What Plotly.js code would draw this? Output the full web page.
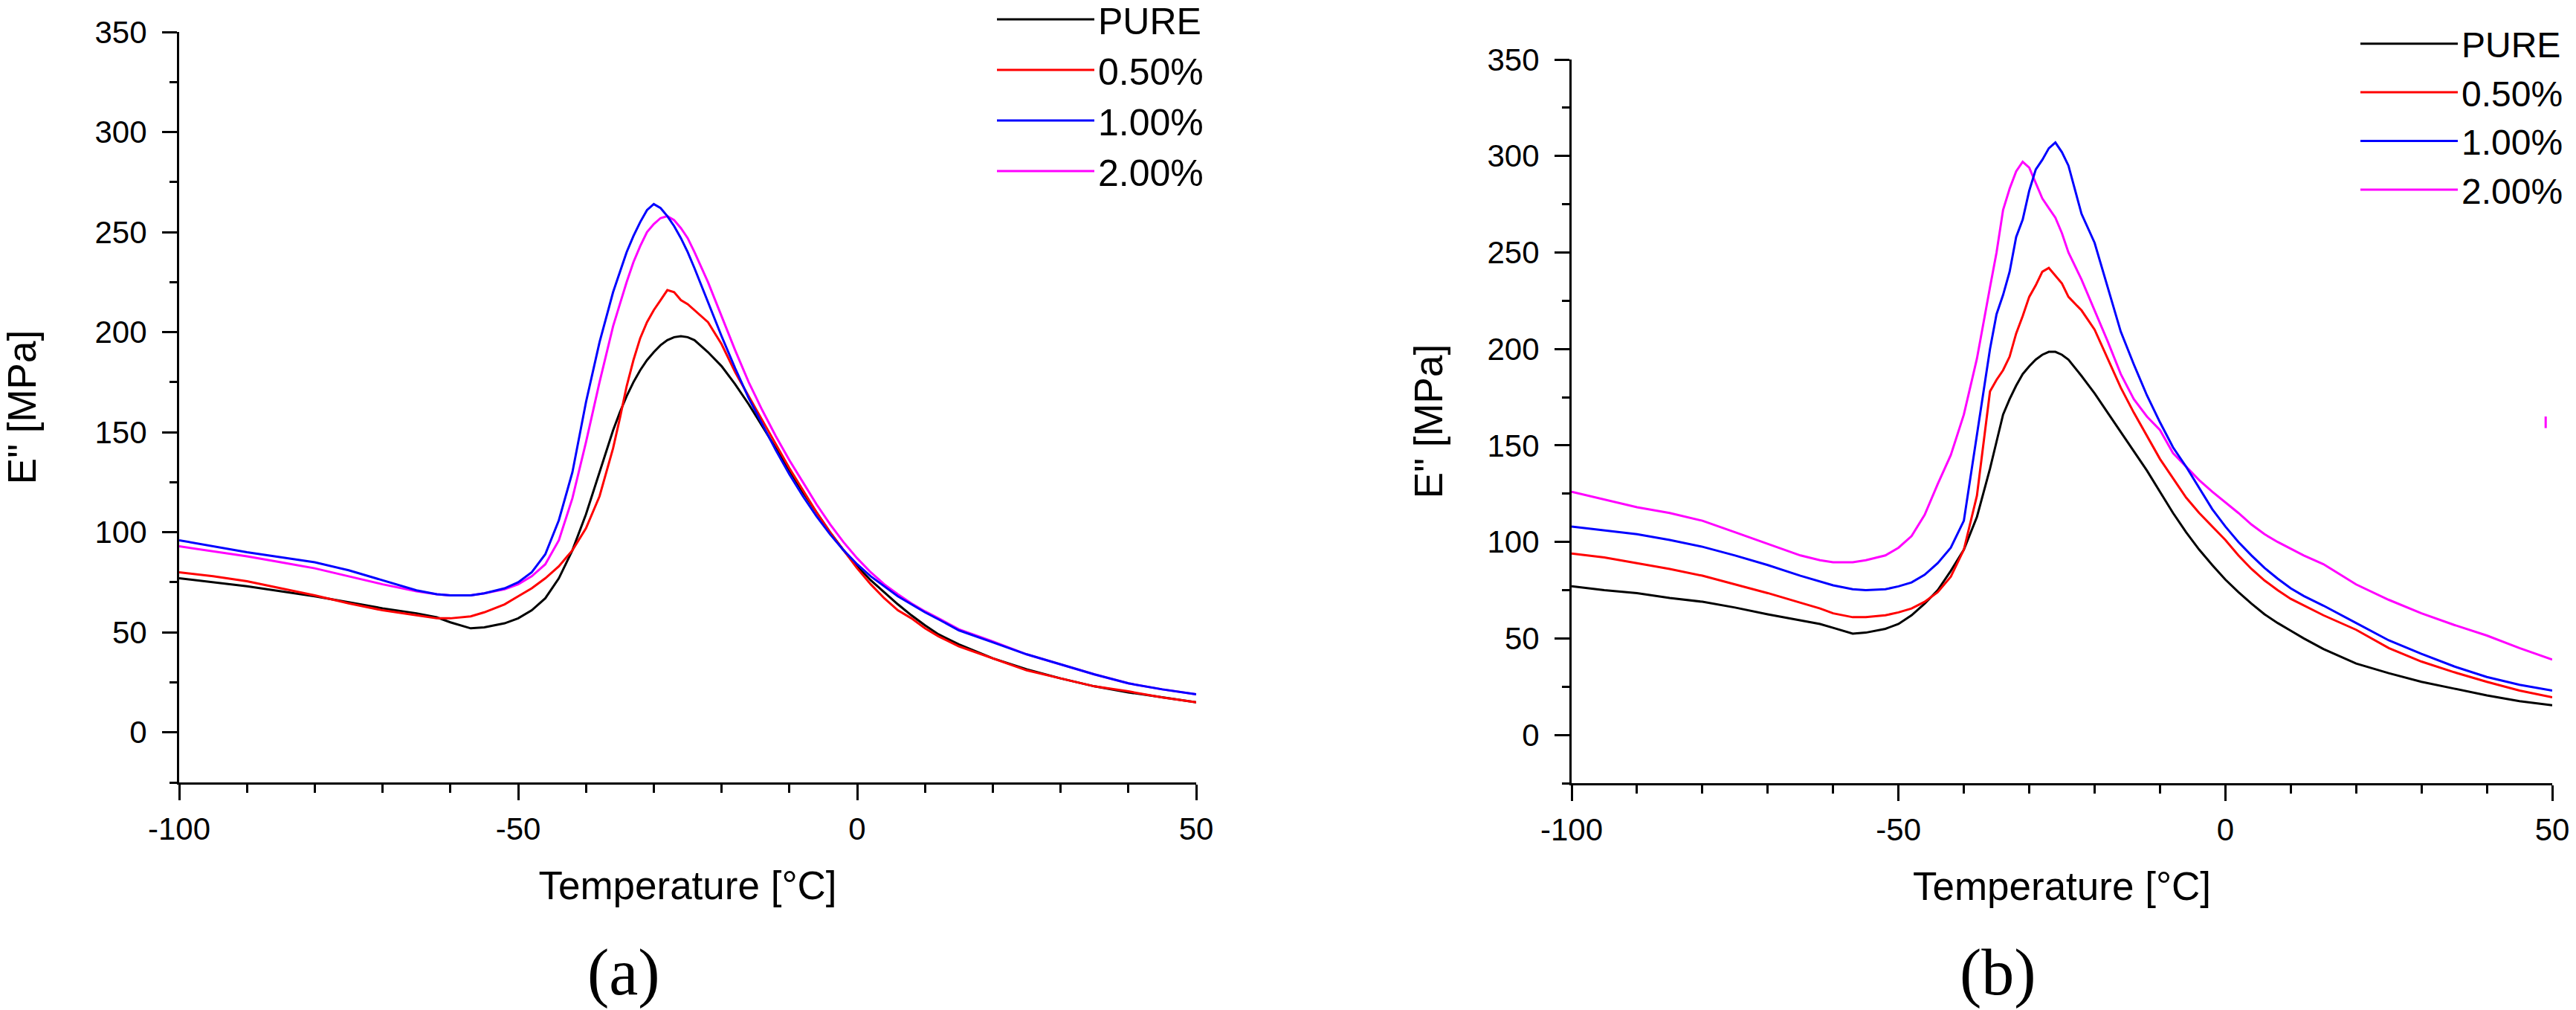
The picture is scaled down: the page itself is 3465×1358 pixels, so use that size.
<!DOCTYPE html>
<html>
<head>
<meta charset="utf-8">
<script src="https://cdn.plot.ly/plotly-3.0.1.min.js"></script>
<style>
  html, body { margin: 0; padding: 0; background: #fff; }
  #chart { width: 3465px; height: 1358px; }
</style>
</head>
<body>
<div id="chart"></div>
<script>
// Temperature grid [°C] shared by every series
const temps = [-100, -95, -90, -85, -80, -75, -70, -65, -62, -60, -57, -55, -52, -50,
  -48, -46, -44, -42, -40, -38, -36, -35, -34, -33, -32, -31, -30, -29, -28, -27,
  -26, -25, -24, -22, -20, -18, -16, -14, -12, -10, -8, -6, -4, -2, 0,
  2, 4, 6, 8, 10, 12, 15, 20, 25, 30, 35, 40, 45, 50];

const seriesNames = ['PURE', '0.50%', '1.00%', '2.00%'];

// tick labels (plain hyphen minus, as in the figure)
const xTickVals = [-100, -50, 0, 50];
const xTickText = ['-100', '-50', '0', '50'];
const yTickVals = [0, 50, 100, 150, 200, 250, 300, 350];
const yTickText = ['0', '50', '100', '150', '200', '250', '300', '350'];

// (a) loss modulus E'' [MPa]
const aPure = [77, 75, 73, 70.5, 68, 65, 62, 59.5, 57.5, 55, 52, 52.5, 54.5, 57,
  61, 67, 77, 91, 109, 130, 151, 160, 168, 175, 181, 186, 190, 193.5, 196, 197.5,
  198, 197.5, 196, 190, 183, 174, 164, 153, 142, 131, 120, 110, 100, 91, 83,
  76, 70, 64, 58.5, 53.5, 49, 44, 37, 31.5, 27, 23, 20, 17.5, 15];
const aHalf = [80, 78, 75.5, 72, 68.5, 64.5, 61, 58.5, 57, 57, 58, 60, 64, 68,
  72, 77, 83, 91, 102, 118, 142, 157, 173, 186, 197, 205, 211, 216, 221, 220,
  216, 214, 211, 205, 194, 180, 168, 156, 144, 132, 121, 110, 100, 91, 82,
  74, 67, 61, 57, 52, 48, 43, 37, 31, 27, 23, 20.5, 17.5, 15];
const aOne = [96, 93, 90, 87.5, 85, 81, 76, 71, 69, 68.5, 68.5, 69.5, 72, 75,
  80, 89, 106, 130, 165, 195, 220, 230, 240, 248, 255, 261, 264, 262, 258, 253,
  247, 240, 232, 215, 198, 182, 167, 154, 141, 129, 118, 108, 99, 91, 84,
  78, 73, 68, 64, 60, 56.5, 51, 45, 39, 34, 29, 24.5, 21.5, 19];
const aTwo = [93, 90.5, 88, 85, 82, 78, 74, 70.5, 69, 68.5, 68.5, 69.5, 71.5, 74,
  78, 84, 96, 117, 145, 175, 203, 214, 225, 235, 243, 250, 254, 257, 258, 256,
  252, 247, 240, 225, 208, 191, 175, 161, 148, 136, 125, 114, 104, 95, 87,
  80, 74, 69, 64.5, 60.5, 57, 51.5, 45.5, 39, 34, 29, 24.5, 21.5, 19];

// (b) loss modulus E'' [MPa]
const bPure = [77, 75, 73.5, 71, 69, 66, 62.5, 59.5, 57.5, 55.5, 52.5, 53, 55, 57.5,
  62, 68, 75, 85, 96, 113, 138, 152, 166, 174, 181, 187, 191, 194.5, 197, 198.5,
  198.5, 197, 194.5, 186, 177, 167, 157, 147, 137, 126, 115, 105, 96, 88, 80.5,
  74, 68, 62.5, 58, 54, 50, 44.5, 37, 32, 27.5, 24, 20.5, 17.5, 15.4];
const bHalf = [94, 92, 89, 86, 82.5, 78, 73.5, 68.5, 65.5, 63, 61, 61, 62, 63.5,
  65.5, 69, 74, 82, 96, 124, 178, 184, 189, 196, 208, 217, 227, 233, 240, 242,
  238, 234, 227, 220, 210, 195, 180, 167, 155, 143, 133, 123, 115, 108, 101,
  93, 86, 80, 75, 70.5, 67, 62, 54.5, 45, 38, 32.5, 27.5, 23, 19.5];
const bOne = [108, 106, 104, 101, 97.5, 93, 88, 82.5, 79.5, 77.5, 75.5, 75, 75.5, 77,
  79, 83, 89, 97, 111, 155, 200, 218, 228, 240, 258, 267, 282, 293, 298, 304,
  307, 302, 295, 270, 255, 232, 209, 192, 176, 162, 149, 139, 128, 117, 108,
  100, 93, 86.5, 81, 76, 72, 67, 58, 49, 42, 35.5, 30, 26, 23];
const bTwo = [126, 122, 118, 115, 111, 105, 99, 93, 90.5, 89.5, 89.5, 90.5, 93, 97,
  103, 114, 130, 145, 166, 195, 232, 250, 272, 283, 292, 297, 294, 286, 278, 273,
  268, 260, 250, 236, 220, 204, 187, 174, 165, 158, 146, 139, 132, 126, 120.5,
  115, 109, 104, 100, 96.5, 93, 88.5, 78, 70, 63, 57, 51.5, 45, 39];

// short stray 2.00% segment near the right edge of (b)
const bStrayT = [49, 49];
const bStrayE = [159, 165];

const colors = ['#000000', '#ff0000', '#0000ff', '#ff00ff'];
const font = 'Liberation Sans, Arial, sans-serif';

function trace(y, i, xa, ya, leg) {
  return {
    x: temps, y: y, name: seriesNames[i],
    type: 'scatter', mode: 'lines',
    line: { color: colors[i], width: 3 },
    xaxis: xa, yaxis: ya, legend: leg, legendrank: i + 1
  };
}

// draw order: black, red, magenta, blue (blue sits on magenta)
const data = [
  trace(aPure, 0, 'x', 'y', 'legend'),
  trace(aHalf, 1, 'x', 'y', 'legend'),
  trace(aTwo, 3, 'x', 'y', 'legend'),
  trace(aOne, 2, 'x', 'y', 'legend'),
  trace(bPure, 0, 'x2', 'y2', 'legend2'),
  trace(bHalf, 1, 'x2', 'y2', 'legend2'),
  trace(bTwo, 3, 'x2', 'y2', 'legend2'),
  trace(bOne, 2, 'x2', 'y2', 'legend2'),
  { x: bStrayT, y: bStrayE, type: 'scatter', mode: 'lines', showlegend: false,
    line: { color: colors[3], width: 3 }, xaxis: 'x2', yaxis: 'y2', hoverinfo: 'skip' }
];

const W = 3465, H = 1358;
const px = (a, b) => [a / W, b / W];
const py = (top, bottom) => [1 - bottom / H, 1 - top / H];

function xAxis(domain, anchor) {
  return {
    domain: domain, anchor: anchor, range: [-100, 50],
    tickmode: 'array', tickvals: xTickVals, ticktext: xTickText,
    showline: true, linecolor: '#000', linewidth: 3, mirror: false,
    showgrid: false, zeroline: false,
    ticks: 'outside', ticklen: 21, tickwidth: 3, tickcolor: '#000',
    minor: { dtick: 10, ticks: 'outside', ticklen: 11, tickwidth: 3, tickcolor: '#000', showgrid: false },
    tickfont: { family: font, size: 42, color: '#000' },
    ticklabelstandoff: 3,
    title: { text: 'Temperature [°C]', font: { family: font, size: 53, color: '#000' }, standoff: 35 }
  };
}
function yAxis(domain, anchor, standoff) {
  return {
    domain: domain, anchor: anchor, range: [-25, 350],
    tickmode: 'array', tickvals: yTickVals, ticktext: yTickText,
    showline: true, linecolor: '#000', linewidth: 3, mirror: false,
    showgrid: false, zeroline: false,
    ticks: 'outside', ticklen: 20, tickwidth: 3, tickcolor: '#000',
    minor: { dtick: 25, ticks: 'outside', ticklen: 10, tickwidth: 3, tickcolor: '#000', showgrid: false },
    tickfont: { family: font, size: 42, color: '#000' },
    ticklabelstandoff: 12,
    title: { text: 'E" [MPa]', font: { family: font, size: 53, color: '#000' }, standoff: standoff }
  };
}

const legendBase = {
  xanchor: 'left', yanchor: 'top', bgcolor: 'rgba(0,0,0,0)', borderwidth: 0,
  itemwidth: 131, traceorder: 'normal'
};

const layout = {
  width: W, height: H,
  paper_bgcolor: '#fff', plot_bgcolor: '#fff',
  margin: { l: 0, r: 0, t: 0, b: 0, autoexpand: false },
  showlegend: true,
  xaxis: xAxis(px(241, 1609), 'y'),
  yaxis: yAxis(py(43, 1052), 'x', 63),
  xaxis2: xAxis(px(2114, 3433), 'y2'),
  yaxis2: yAxis(py(80, 1053), 'x2', 43),
  legend: Object.assign({}, legendBase, { x: 1336 / W, y: 1 + 13 / H,
    font: { family: font, size: 50, color: '#000' } }),
  legend2: Object.assign({}, legendBase, { x: 3170 / W, y: 1 - 21 / H,
    font: { family: font, size: 48, color: '#000' } }),
  annotations: [
    { text: '(a)', xref: 'paper', yref: 'paper', x: 839 / W, y: 0,
      xanchor: 'center', yanchor: 'bottom', showarrow: false,
      font: { family: 'Liberation Serif, Times New Roman, serif', size: 88, color: '#000' } },
    { text: '(b)', xref: 'paper', yref: 'paper', x: 2687 / W, y: 0,
      xanchor: 'center', yanchor: 'bottom', showarrow: false,
      font: { family: 'Liberation Serif, Times New Roman, serif', size: 88, color: '#000' } }
  ]
};

Plotly.newPlot('chart', data, layout, { displayModeBar: false, staticPlot: true });
</script>
</body>
</html>
